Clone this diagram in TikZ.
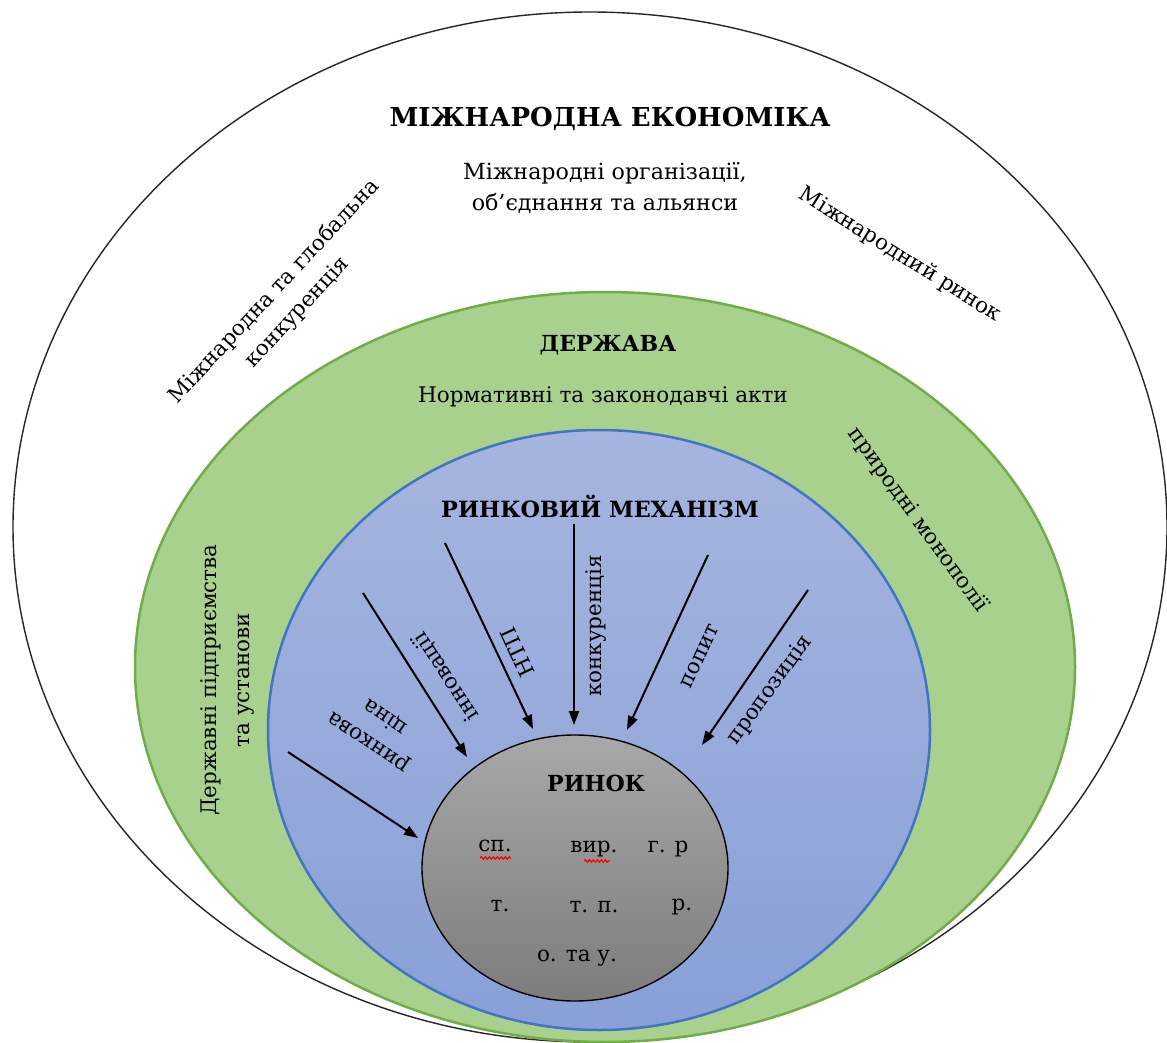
\documentclass[tikz,border=0pt]{standalone}
\usepackage{fontspec}
\setmainfont{DejaVu Serif}[Scale=0.86]
\usetikzlibrary{shapes.geometric,arrows.meta,decorations.pathmorphing}
\definecolor{grfill}{RGB}{169,209,142}
\definecolor{grline}{RGB}{112,173,71}
\definecolor{bltop}{RGB}{166,181,223}
\definecolor{blbot}{RGB}{136,160,215}
\definecolor{blline}{RGB}{68,114,196}
\definecolor{gytop}{RGB}{168,168,168}
\definecolor{gybot}{RGB}{124,124,124}
\begin{document}
\begin{tikzpicture}[x=1pt,y=-1pt,
  lbl/.style={font=\fontsize{25}{31}\selectfont, align=center, inner sep=0pt},
  ttl/.style={font=\bfseries\fontsize{25.7}{31}\selectfont, inner sep=0pt},
  arr/.style={draw=black, line width=2pt, -{Triangle[length=14pt,width=10pt]}},
  spell/.style={draw=red, line width=1.2pt, decorate, decoration={snake, amplitude=1.2pt, segment length=4pt}},
  ell/.style={ellipse, inner sep=0pt}]
\useasboundingbox (0,0) rectangle (1167,1043);
\fill[white] (0,0) rectangle (1167,1043);
% circles
\node[ell, draw=black!85, line width=1.4pt, fill=white, minimum width=1154pt, minimum height=1030pt] (outer) at (590,527) {};
\node[ell, draw=grline, line width=2.5pt, fill=grfill, minimum width=940pt, minimum height=750pt] (green) at (605,667) {};
\node[ell, draw=blline, line width=2.5pt, top color=bltop, bottom color=blbot, minimum width=662pt, minimum height=600pt] (blue) at (599,730) {};
\node[ell, draw=black, line width=1.4pt, top color=gytop, bottom color=gybot, minimum width=306pt, minimum height=266pt] (gray) at (575,868) {};
% outer texts
\node[ttl, font=\bfseries\fontsize{30.3}{35}\selectfont] (t1) at (610,119) {МІЖНАРОДНА ЕКОНОМІКА};
\node[lbl, font=\fontsize{25.8}{31}\selectfont] (org) at (605,188) {Міжнародні організації,\\об’єднання та альянси};
\node[lbl, rotate=47] (glob) at (286,302) {Міжнародна та глобальна\\конкуренція};
\node[lbl, rotate=-32] (mr) at (900,255) {Міжнародний ринок};
% green texts
\node[ttl] (derzh) at (608,345) {ДЕРЖАВА};
\node[lbl] (norm) at (603,397) {Нормативні та законодавчі акти};
\node[lbl, rotate=90, font=\fontsize{25}{33}\selectfont] (dp) at (227,680) {Державні підприємства\\та установи};
\node[lbl, rotate=-54] (pm) at (918,520) {природні монополії};
% blue texts
\node[ttl, font=\bfseries\fontsize{26}{31}\selectfont] (rm) at (600,506) {РИНКОВИЙ МЕХАНІЗМ};
% arrows
\coordinate (s1) at (288,752); \coordinate (e1) at (418,838);
\coordinate (s2) at (363,593); \coordinate (e2) at (467,757);
\coordinate (s3) at (445,543); \coordinate (e3) at (533,729);
\coordinate (s4) at (574,524); \coordinate (e4) at (574,725);
\coordinate (s5) at (708,555); \coordinate (e5) at (627,730);
\coordinate (s6) at (808,590); \coordinate (e6) at (702,745);
\draw[arr] (s1) -- (e1);
\draw[arr] (s2) -- (e2);
\draw[arr] (s3) -- (e3);
\draw[arr] (s4) -- (e4);
\draw[arr] (s5) -- (e5);
\draw[arr] (s6) -- (e6);
\node[lbl, rotate=146] (l1) at (378,728) {ринкова\\ціна};
\node[lbl, rotate=123] (l2) at (446,677) {інновації};
\node[lbl, rotate=115] (l3) at (517,652) {НТП};
\node[lbl, rotate=90] (l4) at (596,626) {конкуренція};
\node[lbl, rotate=65] (l5) at (700,656) {попит};
\node[lbl, rotate=54] (l6) at (770,690) {пропозиція};
% market
\node[ttl] (rt) at (596,783) {РИНОК};
\node[lbl] (m1) at (495,846) {сп.};
\node[lbl] (m2) at (594,849) {вир.};
\node[lbl] (m3) at (668,849) {г. р};
\node[lbl] (m4) at (500,906) {т.};
\node[lbl] (m5) at (594,907) {т. п.};
\node[lbl] (m6) at (682,907) {р.};
\node[lbl] (m7) at (577,958) {о. та у.};
\draw[spell] (480,858) -- (511,858);
\draw[spell] (584,861) -- (610,861);
\end{tikzpicture}
\end{document}
